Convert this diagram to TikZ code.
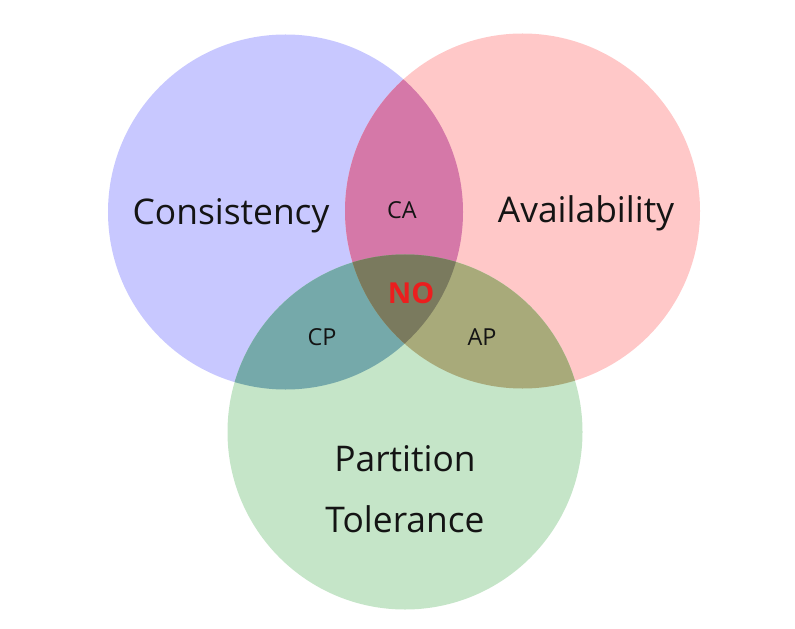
\documentclass[tikz,border=0pt]{standalone}
\usepackage{fontspec}
\setmainfont{Open Sans}
\definecolor{bluec}{RGB}{200,200,255}
\definecolor{redc}{RGB}{255,200,200}
\definecolor{greenc}{RGB}{197,229,200}
\definecolor{cac}{RGB}{213,120,168}
\definecolor{cpc}{RGB}{117,169,170}
\definecolor{apc}{RGB}{168,170,122}
\definecolor{noc}{RGB}{122,122,94}
\definecolor{nored}{RGB}{235,30,30}
\tikzset{
  big/.style={font=\fontsize{35.5}{42}\selectfont, text=black!92, inner sep=0pt, anchor=base},
  small/.style={font=\fontsize{23.5}{28}\selectfont, text=black!92, inner sep=0pt, anchor=base},
  nolabel/.style={font=\fontsize{29}{34}\selectfont\bfseries, text=nored, inner sep=0pt, anchor=base}
}
\begin{document}
\begin{tikzpicture}[x=1bp,y=-1bp]
\useasboundingbox (0,0) rectangle (795,629);
\coordinate (C) at (285.5,212);
\coordinate (A) at (522.5,211);
\coordinate (P) at (405,432);
\def\rr{177.5bp}
\fill[bluec] (C) circle[radius=\rr];
\fill[redc] (A) circle[radius=\rr];
\fill[greenc] (P) circle[radius=\rr];
\begin{scope}
  \clip (C) circle[radius=\rr];
  \fill[cac] (A) circle[radius=\rr];
  \fill[cpc] (P) circle[radius=\rr];
\end{scope}
\begin{scope}
  \clip (A) circle[radius=\rr];
  \fill[apc] (P) circle[radius=\rr];
\end{scope}
\begin{scope}
  \clip (C) circle[radius=\rr];
  \clip (A) circle[radius=\rr];
  \fill[noc] (P) circle[radius=\rr];
\end{scope}
\node[big] (cons) at (231,225) {Consistency};
\node[big] (avail) at (586,223) {Availability};
\node[big] (part) at (405,471) {Partition};
\node[big] (tol) at (405,532) {Tolerance};
\node[small] (ca) at (402,219) {CA};
\node[small] (cp) at (322,345) {CP};
\node[small] (ap) at (482,345) {AP};
\node[nolabel] (no) at (411,303) {NO};
\end{tikzpicture}
\end{document}
